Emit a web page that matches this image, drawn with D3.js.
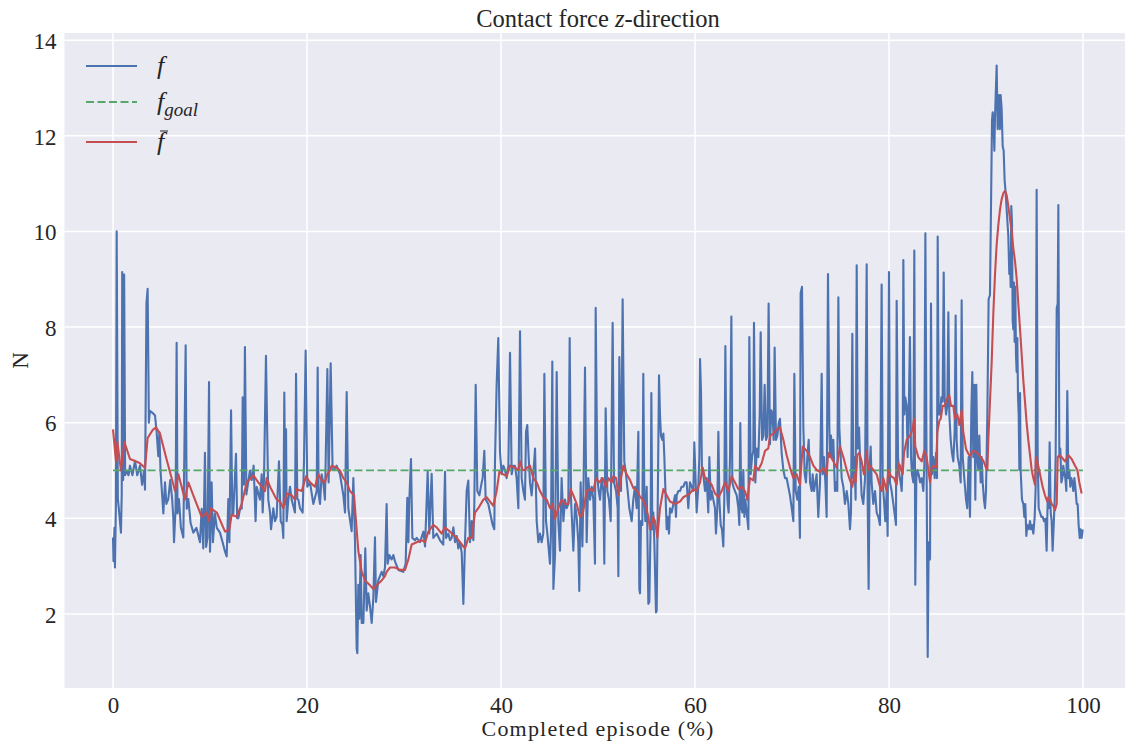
<!DOCTYPE html>
<html>
<head>
<meta charset="utf-8">
<script src="https://cdn.jsdelivr.net/npm/d3@7"></script>
<style>
	body { margin: 0; background: #fff; }
	text { font-family: "Liberation Serif", "DejaVu Serif", serif; fill: #262626; }
</style>
</head>
<body>
<svg></svg>
<script>
// measured contact force, [episode %, N]
const forcePoints = [
	[0.0,3.6],[0.05,3.1],[0.15,3.8],[0.2,2.97],[0.3,4.3],[0.38,10.0],[0.5,4.4],[0.6,4.2],[0.82,3.7],[0.9,4.5],
	[0.95,9.15],[1.05,4.8],[1.15,9.1],[1.25,4.9],[1.4,5.0],[1.6,4.9],[1.75,5.1],[2.0,4.9],[2.27,5.2],[2.5,4.9],
	[2.78,5.1],[3.0,4.7],[3.2,5.0],[3.3,4.6],[3.45,8.5],[3.57,8.8],[3.7,6.0],[3.8,6.25],[4.1,6.2],[4.33,6.15],
	[4.5,5.8],[4.67,5.3],[4.78,5.8],[4.9,5.0],[5.19,4.1],[5.36,4.75],[5.5,4.3],[5.7,4.4],[5.9,4.8],[6.1,4.4],
	[6.22,4.0],[6.29,3.5],[6.45,4.2],[6.56,7.67],[6.65,4.1],[6.8,4.4],[7.0,3.8],[7.25,3.6],[7.49,7.62],[7.6,4.2],
	[7.77,4.4],[8.0,3.9],[8.28,3.7],[8.6,3.8],[8.97,3.5],[9.14,4.2],[9.31,3.37],[9.48,5.37],[9.6,3.4],[9.75,3.6],
	[9.9,6.85],[10.0,3.3],[10.17,4.75],[10.3,3.5],[10.5,4.1],[10.7,3.8],[11.03,3.7],[11.3,3.5],[11.55,3.3],[11.72,3.2],
	[11.89,4.4],[12.0,3.5],[12.17,6.26],[12.3,4.1],[12.4,4.1],[12.68,5.35],[12.8,4.0],[12.92,4.0],[13.1,4.2],[13.27,4.2],
	[13.37,6.53],[13.5,4.7],[13.6,7.58],[13.75,4.5],[14.12,5.0],[14.3,4.8],[14.5,5.1],[14.7,3.94],[14.81,4.66],[15.15,4.39],
	[15.33,4.92],[15.43,4.12],[15.57,4.84],[15.77,7.4],[16.01,4.39],[16.19,4.12],[16.29,3.77],[16.53,4.21],[16.7,3.94],[16.87,4.03],
	[17.11,5.19],[17.29,3.94],[17.46,3.86],[17.56,3.59],[17.66,6.63],[17.76,4.3],[17.84,5.86],[17.9,3.94],[18.08,4.39],[18.25,4.66],
	[18.42,4.39],[18.76,4.12],[18.87,7.02],[19.0,4.4],[19.11,4.39],[19.28,4.21],[19.55,4.12],[19.69,5.19],[19.86,7.51],[20.03,4.66],
	[20.31,4.75],[20.65,4.3],[21.0,4.57],[21.1,7.15],[21.2,4.5],[21.34,4.3],[21.51,4.92],[21.68,4.75],[21.85,4.39],[22.1,7.12],
	[22.23,4.75],[22.44,7.24],[22.64,5.01],[22.82,5.01],[23.05,5.1],[23.4,4.92],[23.75,4.48],[23.92,4.12],[24.09,6.64],[24.26,4.21],
	[24.6,3.73],[24.78,4.84],[24.95,3.5],[25.12,1.27],[25.19,1.18],[25.29,2.61],[25.4,1.9],[25.53,3.23],[25.64,1.81],[25.81,1.81],
	[26.01,3.37],[26.15,2.07],[26.32,2.43],[26.49,2.16],[26.67,1.81],[26.84,2.34],[27.01,3.6],[27.11,2.25],[27.35,2.7],[27.7,2.88],
	[27.87,2.79],[28.04,2.97],[28.21,4.3],[28.31,3.05],[28.49,3.23],[28.73,3.14],[28.9,3.23],[29.07,3.1],[29.42,2.92],[29.93,2.88],
	[30.17,3.05],[30.34,4.43],[30.45,3.5],[30.55,4.39],[30.72,5.24],[30.86,3.59],[31.14,3.54],[31.31,3.59],[31.65,3.5],[32.0,3.72],
	[32.17,3.41],[32.44,4.97],[32.61,3.68],[32.85,4.93],[33.02,3.59],[33.37,3.68],[33.71,3.54],[34.05,3.45],[34.23,4.97],[34.33,3.59],
	[34.57,3.68],[34.74,3.54],[34.91,3.59],[35.09,3.81],[35.26,3.5],[35.43,3.63],[35.6,3.37],[35.77,3.5],[35.95,3.28],[36.12,2.21],
	[36.29,3.5],[36.46,4.57],[36.63,4.79],[36.8,3.5],[36.98,3.94],[37.15,3.54],[37.25,4.3],[37.39,6.79],[37.56,4.57],[37.77,4.48],
	[38.01,4.75],[38.11,4.84],[38.28,5.41],[38.42,4.39],[38.69,4.3],[38.87,4.12],[39.14,3.86],[39.31,3.77],[39.38,5.19],[39.55,6.79],
	[39.72,7.77],[39.9,5.37],[40.07,4.92],[40.24,5.1],[40.41,5.01],[40.58,4.84],[40.76,5.1],[40.93,7.46],[41.1,4.92],[41.27,5.1],
	[41.44,5.1],[41.61,4.84],[41.79,4.21],[41.96,7.91],[42.13,4.84],[42.3,4.57],[42.47,4.39],[42.58,5.81],[42.71,5.95],[42.85,5.28],
	[42.99,4.75],[43.16,4.48],[43.33,4.92],[43.51,5.46],[43.68,3.94],[43.85,3.5],[44.02,3.68],[44.19,3.5],[44.36,3.68],[44.47,7.02],
	[44.64,3.94],[44.78,3.68],[45.05,3.05],[45.15,3.68],[45.29,7.28],[45.4,2.52],[45.57,3.23],[45.74,7.06],[45.91,3.94],[46.08,3.32],
	[46.25,4.84],[46.43,3.94],[46.6,4.39],[46.77,4.21],[46.94,4.3],[47.08,7.77],[47.22,4.39],[47.46,3.32],[47.63,4.3],[47.8,4.03],
	[47.97,3.5],[48.07,2.48],[48.21,4.75],[48.39,3.41],[48.52,4.84],[48.66,7.15],[48.83,3.5],[49.0,4.84],[49.18,4.39],[49.35,4.66],
	[49.52,4.39],[49.69,3.05],[49.76,8.4],[49.93,4.84],[50.07,4.57],[50.21,4.39],[50.38,4.84],[50.55,4.57],[50.65,3.05],[50.79,6.3],
	[50.96,4.57],[51.13,4.39],[51.31,3.94],[51.51,8.09],[51.65,4.75],[51.86,4.57],[52.03,4.21],[52.1,2.79],[52.2,7.37],[52.37,4.57],
	[52.54,8.58],[52.71,5.19],[52.89,4.92],[53.06,4.57],[53.23,4.21],[53.47,3.94],[53.64,4.39],[53.81,4.66],[53.99,4.21],[54.16,5.81],
	[54.26,2.52],[54.33,2.43],[54.43,3.94],[54.57,3.86],[54.67,7.02],[54.78,4.39],[54.88,3.94],[55.02,4.66],[55.19,2.21],[55.29,2.25],
	[55.43,3.94],[55.5,6.62],[55.6,3.77],[55.7,4.12],[55.81,3.5],[55.98,2.03],[56.05,2.07],[56.12,3.5],[56.29,6.99],[56.39,6.17],
	[56.49,5.73],[56.63,5.64],[56.74,5.77],[56.84,5.28],[56.98,4.39],[57.08,3.77],[57.18,4.03],[57.32,3.68],[57.42,4.21],[57.59,4.12],
	[57.77,4.3],[57.94,4.48],[58.04,4.03],[58.11,4.48],[58.28,4.57],[58.45,4.57],[58.62,4.66],[58.8,4.66],[58.97,4.75],[59.14,4.75],
	[59.31,4.21],[59.48,4.75],[59.66,4.66],[59.83,4.57],[59.93,5.59],[60.07,4.75],[60.17,4.12],[60.34,4.66],[60.45,5.28],[60.52,7.33],
	[60.62,6.62],[60.72,4.92],[60.86,4.92],[61.03,4.57],[61.2,4.84],[61.37,4.12],[61.48,5.28],[61.62,4.39],[61.72,4.57],[61.89,4.39],
	[62.06,4.21],[62.16,3.68],[62.3,4.21],[62.41,5.81],[62.51,4.39],[62.65,3.86],[62.78,3.77],[62.92,3.41],[63.02,4.39],[63.13,7.6],
	[63.26,4.75],[63.37,4.3],[63.47,4.12],[63.61,5.28],[63.75,8.22],[63.85,4.75],[63.95,4.66],[64.12,4.57],[64.3,4.48],[64.47,4.21],
	[64.57,3.86],[64.67,5.99],[64.78,4.21],[64.88,4.12],[64.98,5.01],[65.09,4.03],[65.19,4.39],[65.33,4.12],[65.5,3.77],[65.6,7.79],
	[65.74,4.92],[65.88,5.28],[66.01,5.41],[66.08,8.09],[66.22,4.75],[66.36,5.46],[66.53,5.28],[66.67,6.17],[66.77,7.89],[66.91,5.64],
	[67.05,5.73],[67.18,6.79],[67.32,5.64],[67.46,5.73],[67.59,8.49],[67.73,5.55],[67.87,6.26],[68.0,6.17],[68.11,5.64],[68.21,7.57],
	[68.35,5.64],[68.49,5.73],[68.63,5.99],[68.76,6.08],[68.93,5.37],[69.11,5.01],[69.28,4.84],[69.45,4.84],[69.62,4.66],[69.79,4.48],
	[69.97,4.21],[70.14,3.94],[70.24,7.02],[70.38,4.57],[70.55,4.39],[70.69,4.66],[70.82,3.59],[70.89,8.71],[71.03,8.84],[71.17,5.9],
	[71.31,4.92],[71.44,4.75],[71.58,5.28],[71.72,5.64],[71.86,4.75],[72.03,4.57],[72.13,4.92],[72.27,4.57],[72.41,4.75],[72.54,4.92],
	[72.71,4.03],[72.89,4.75],[73.06,7.02],[73.16,4.92],[73.3,5.28],[73.44,4.75],[73.57,4.03],[73.71,9.11],[73.85,5.9],[73.92,5.28],
	[74.02,5.73],[74.16,5.28],[74.26,5.64],[74.43,4.57],[74.54,4.75],[74.67,4.57],[74.78,8.62],[74.88,5.9],[75.02,5.28],[75.12,4.84],
	[75.29,4.66],[75.46,4.3],[75.64,4.57],[75.81,4.3],[75.98,3.77],[76.08,4.12],[76.22,7.86],[76.32,4.84],[76.43,5.28],[76.56,4.39],
	[76.67,9.29],[76.77,5.46],[76.91,5.9],[77.01,5.28],[77.18,4.48],[77.35,4.3],[77.53,4.84],[77.7,9.31],[77.8,4.39],[77.9,2.52],
	[78.01,5.1],[78.11,5.5],[78.21,4.75],[78.38,4.3],[78.56,4.57],[78.73,4.12],[78.9,4.03],[79.07,3.86],[79.24,8.89],[79.35,4.75],
	[79.48,4.39],[79.62,3.94],[79.76,4.57],[79.86,3.63],[80.0,9.15],[80.1,4.75],[80.27,4.57],[80.45,4.3],[80.62,4.03],[80.72,3.86],
	[80.79,8.55],[80.93,5.28],[81.06,4.92],[81.2,4.75],[81.31,4.57],[81.41,5.28],[81.48,9.4],[81.58,6.17],[81.68,6.53],[81.82,6.35],
	[81.92,5.28],[82.03,6.17],[82.16,7.79],[82.27,5.28],[82.37,4.92],[82.51,4.75],[82.61,9.6],[82.71,2.61],[82.82,4.84],[82.92,5.01],
	[83.06,4.92],[83.2,4.75],[83.37,4.84],[83.54,4.57],[83.64,5.1],[83.75,9.96],[83.88,4.92],[83.99,1.1],[84.09,3.5],[84.23,3.14],
	[84.33,8.49],[84.43,4.92],[84.57,5.28],[84.71,4.84],[84.85,5.37],[84.95,4.84],[85.02,9.89],[85.12,6.17],[85.26,6.17],[85.4,6.53],
	[85.53,6.44],[85.64,9.14],[85.74,6.53],[85.88,6.17],[86.01,6.35],[86.12,8.31],[86.22,6.17],[86.36,5.64],[86.49,5.37],[86.63,5.19],
	[86.77,5.81],[86.87,8.24],[86.97,5.64],[87.08,5.28],[87.25,5.1],[87.39,4.75],[87.49,8.56],[87.6,5.28],[87.73,4.92],[87.94,4.39],
	[88.07,4.21],[88.21,5.28],[88.35,4.03],[88.49,6.26],[88.59,7.06],[88.69,5.28],[88.8,6.79],[88.9,4.39],[89.0,6.79],[89.11,5.28],
	[89.21,5.01],[89.31,5.73],[89.45,4.75],[89.55,5.28],[89.66,4.75],[89.79,4.39],[89.9,4.21],[90.0,4.57],[90.14,6.17],[90.27,8.58],
	[90.41,8.67],[90.52,10.6],[90.62,12.32],[90.69,12.49],[90.76,12.4],[90.86,11.69],[90.93,12.4],[91.0,12.85],[91.1,13.47],[91.2,12.14],
	[91.34,12.85],[91.44,12.14],[91.51,12.85],[91.61,12.58],[91.72,11.78],[91.82,11.69],[91.92,11.07],[92.03,10.8],[92.16,10.36],[92.3,9.91],
	[92.4,9.11],[92.47,9.55],[92.54,8.84],[92.61,10.53],[92.68,10.18],[92.75,8.13],[92.82,7.95],[92.89,8.93],[92.95,7.69],[93.02,8.84],
	[93.09,7.42],[93.16,7.06],[93.23,7.77],[93.3,6.53],[93.37,6.17],[93.44,5.01],[93.51,6.62],[93.57,5.01],[93.71,4.39],[93.85,4.3],
	[93.95,4.03],[94.05,4.3],[94.16,3.63],[94.26,3.86],[94.4,3.77],[94.54,3.94],[94.64,3.77],[94.74,3.86],[94.88,3.68],[95.02,4.03],
	[95.12,4.66],[95.22,10.87],[95.33,5.28],[95.43,4.21],[95.57,4.12],[95.71,4.03],[95.84,4.03],[95.98,3.94],[96.12,3.99],[96.25,3.32],
	[96.36,4.39],[96.46,4.21],[96.56,5.59],[96.67,4.12],[96.77,3.94],[96.87,3.32],[96.98,3.86],[97.08,4.39],[97.18,5.28],[97.29,8.4],
	[97.39,8.49],[97.46,10.55],[97.56,5.28],[97.66,5.46],[97.77,4.75],[97.87,4.84],[97.97,5.1],[98.08,4.92],[98.18,4.84],[98.28,4.57],
	[98.38,6.66],[98.49,4.84],[98.59,5.01],[98.69,4.66],[98.8,4.84],[98.9,4.75],[99.0,4.57],[99.11,4.84],[99.21,4.66],[99.35,4.3],
	[99.45,4.3],[99.55,3.86],[99.66,3.59],[99.76,3.77],[99.86,3.59],[99.97,3.77]
];

// running mean of the force, [episode %, N]
const meanPoints = [
	[0.0,5.86],[0.3,5.2],[0.45,5.6],[0.82,5.0],[1.17,5.6],[1.75,5.24],[2.27,5.2],[2.78,5.15],[3.3,5.05],[3.57,5.68],
	[4.1,5.85],[4.43,5.9],[4.85,5.77],[5.46,5.28],[6.4,4.57],[6.74,4.92],[7.42,4.39],[7.77,4.75],[8.28,4.48],[9.14,4.03],
	[9.66,4.12],[9.9,3.94],[10.07,4.21],[10.7,4.12],[11.55,3.72],[12.0,3.77],[12.24,4.08],[12.75,4.03],[13.27,4.3],[13.78,4.75],
	[14.47,4.9],[14.98,4.75],[15.67,4.57],[15.84,4.84],[16.19,4.66],[16.87,4.39],[17.22,4.35],[17.56,4.21],[17.9,4.52],[18.42,4.48],
	[18.76,4.39],[18.93,4.61],[19.45,4.57],[19.72,4.75],[19.89,4.88],[20.31,4.75],[20.82,4.66],[21.17,4.92],[21.51,4.79],[21.85,4.75],
	[22.1,4.92],[22.37,5.0],[22.54,5.1],[23.05,5.06],[23.4,5.0],[23.75,4.84],[24.09,4.75],[24.43,4.57],[24.85,4.48],[25.05,3.94],
	[25.29,3.32],[25.64,2.88],[25.98,2.7],[26.49,2.6],[26.84,2.52],[27.18,2.6],[27.7,2.7],[28.04,2.79],[28.21,2.88],[28.56,2.97],
	[29.07,2.97],[29.59,2.92],[30.1,2.92],[30.45,3.14],[30.79,3.45],[31.31,3.5],[31.82,3.54],[32.17,3.5],[32.51,3.72],[33.02,3.86],
	[33.37,3.81],[33.88,3.68],[34.2,3.81],[34.74,3.72],[35.43,3.59],[36.12,3.41],[36.29,3.37],[36.63,3.59],[36.98,3.59],[37.32,4.12],
	[37.66,4.21],[38.18,4.39],[38.52,4.44],[38.87,4.35],[39.21,4.26],[39.55,4.57],[39.83,4.97],[40.24,4.92],[40.58,4.88],[40.93,5.1],
	[41.44,5.06],[41.79,5.01],[41.96,5.19],[42.23,5.01],[42.47,5.01],[42.71,5.06],[42.99,5.1],[43.33,4.84],[43.68,4.75],[44.02,4.57],
	[44.36,4.44],[44.71,4.39],[45.05,4.21],[45.33,4.3],[45.57,3.99],[45.91,4.21],[46.25,4.39],[46.6,4.3],[46.94,4.3],[47.18,4.61],
	[47.46,4.48],[47.8,4.3],[48.14,4.03],[48.42,4.08],[48.83,4.57],[49.18,4.61],[49.52,4.57],[49.79,4.84],[50.14,4.75],[50.48,4.84],
	[50.82,4.66],[51.07,4.84],[51.41,4.75],[51.58,4.88],[51.86,4.84],[52.1,4.48],[52.37,4.84],[52.61,5.1],[52.95,4.92],[53.3,4.8],
	[53.64,4.63],[53.99,4.59],[54.33,4.45],[54.6,4.39],[54.85,4.3],[55.19,4.03],[55.36,3.77],[55.7,4.03],[55.88,3.94],[56.12,3.59],
	[56.39,4.21],[56.74,4.61],[57.08,4.48],[57.42,4.35],[57.94,4.3],[58.45,4.35],[58.8,4.44],[59.14,4.48],[59.48,4.52],[59.83,4.61],
	[60.17,4.57],[60.52,4.75],[60.79,5.06],[61.03,4.84],[61.37,4.79],[61.72,4.7],[62.06,4.52],[62.41,4.44],[62.75,4.57],[63.09,4.75],
	[63.44,4.57],[63.78,4.88],[64.12,4.75],[64.47,4.61],[64.81,4.66],[65.15,4.57],[65.4,4.39],[65.67,4.84],[66.01,4.79],[66.19,5.1],
	[66.53,5.01],[66.87,5.15],[67.22,5.41],[67.56,5.46],[67.73,5.73],[68.07,5.77],[68.42,5.86],[68.76,5.9],[69.11,5.64],[69.45,5.32],
	[69.79,5.06],[70.14,4.84],[70.48,4.92],[70.82,4.7],[71.1,5.5],[71.51,5.41],[71.86,5.28],[72.2,5.1],[72.54,5.01],[72.89,4.97],
	[73.23,5.05],[73.57,4.92],[73.74,5.37],[73.92,5.32],[74.26,5.19],[74.6,5.06],[74.95,5.5],[75.29,5.28],[75.64,5.01],[75.98,4.79],
	[76.22,4.66],[76.43,4.92],[76.56,4.75],[76.74,5.32],[76.94,5.37],[77.18,5.19],[77.42,4.92],[77.7,5.41],[77.87,5.01],[78.04,5.1],
	[78.38,5.01],[78.73,4.92],[79.07,4.66],[79.24,4.57],[79.41,4.84],[79.76,4.57],[79.93,5.01],[80.2,4.88],[80.52,4.84],[80.79,4.7],
	[80.96,5.15],[81.13,5.1],[81.41,4.92],[81.55,5.37],[81.82,5.64],[82.16,5.73],[82.44,5.86],[82.58,6.08],[82.71,5.5],[83.02,5.28],
	[83.37,5.19],[83.64,5.41],[83.88,5.28],[84.06,5.01],[84.23,4.75],[84.4,5.06],[84.57,5.1],[84.85,5.06],[84.99,5.81],[85.19,6.04],
	[85.33,6.08],[85.53,6.35],[85.71,6.35],[85.88,6.44],[86.05,6.53],[86.22,6.57],[86.39,6.35],[86.63,6.35],[86.8,6.08],[87.04,6.17],
	[87.25,5.95],[87.49,6.26],[87.66,5.8],[87.94,5.45],[88.18,5.35],[88.35,5.3],[88.59,5.4],[88.87,5.4],[89.11,5.37],[89.38,5.3],
	[89.73,5.2],[90.0,5.06],[90.14,5.01],[90.24,5.64],[90.41,6.44],[90.58,7.24],[90.76,8.31],[90.93,9.11],[91.1,9.73],[91.27,10.13],
	[91.44,10.45],[91.61,10.67],[91.79,10.8],[91.96,10.85],[92.13,10.76],[92.3,10.53],[92.47,10.27],[92.65,10.0],[92.82,9.64],[92.99,9.38],
	[93.16,9.02],[93.33,8.49],[93.51,7.95],[93.68,7.42],[93.85,6.88],[94.02,6.44],[94.19,5.99],[94.36,5.64],[94.54,5.32],[94.71,5.01],
	[94.88,4.84],[95.05,4.7],[95.15,5.28],[95.29,5.19],[95.57,4.92],[95.84,4.66],[96.08,4.48],[96.32,4.35],[96.43,4.44],[96.6,4.39],
	[96.77,4.3],[96.94,4.26],[97.11,4.17],[97.29,4.3],[97.39,5.28],[97.56,5.32],[97.8,5.28],[98.14,5.19],[98.49,5.32],[98.83,5.24],
	[99.18,5.1],[99.42,5.01],[99.62,4.75],[99.86,4.52]
];

const goalForce = 5.0;
const goalRange = [0, 100];

const xTicks = [0, 20, 40, 60, 80, 100];
const yTicks = [2, 4, 6, 8, 10, 12, 14];

const width = 1125;
const height = 745;
const margin = {left: 64.5, right: -6.5, top: 33, bottom: 57};

const colours = {f: '#4C72B0', goal: '#55A868', mean: '#C44E52'};

const svg = d3.select('svg')
	.attr('width', width)
	.attr('height', height);

const x = d3.scaleLinear()
	.domain([-5, 105])
	.range([margin.left, width - margin.right]);

const y = d3.scaleLinear()
	.domain([0.45, 14.15])
	.range([height - margin.bottom, margin.top]);

const plotW = width - margin.right - margin.left;
const plotH = height - margin.bottom - margin.top;

svg.append('defs').append('clipPath')
	.attr('id', 'plot-clip')
	.append('rect')
		.attr('x', margin.left)
		.attr('y', margin.top)
		.attr('width', plotW)
		.attr('height', plotH);

svg.append('rect')
	.attr('x', margin.left)
	.attr('y', margin.top)
	.attr('width', plotW)
	.attr('height', plotH)
	.attr('fill', '#EAEAF2');

// grid
const grid = svg.append('g');
grid.selectAll('line.gx')
	.data(xTicks)
	.enter().append('line')
		.attr('x1', d => x(d))
		.attr('x2', d => x(d))
		.attr('y1', margin.top)
		.attr('y2', height - margin.bottom)
		.attr('stroke', '#fff')
		.attr('stroke-width', 1.5);
grid.selectAll('line.gy')
	.data(yTicks)
	.enter().append('line')
		.attr('x1', margin.left)
		.attr('x2', width)
		.attr('y1', d => y(d))
		.attr('y2', d => y(d))
		.attr('stroke', '#fff')
		.attr('stroke-width', 1.5);

// tick labels via axes, no domain / tick marks
const xAxis = svg.append('g')
	.attr('transform', `translate(0,${height - margin.bottom})`)
	.call(d3.axisBottom(x).tickValues(xTicks).tickSize(0).tickPadding(9));
const yAxis = svg.append('g')
	.attr('transform', `translate(${margin.left},0)`)
	.call(d3.axisLeft(y).tickValues(yTicks).tickSize(0).tickPadding(8));
[xAxis, yAxis].forEach(ax => {
	ax.select('.domain').remove();
	ax.selectAll('text')
		.attr('font-size', 23)
		.attr('font-family', '"Liberation Serif", "DejaVu Serif", serif')
		.attr('fill', '#262626');
});
yAxis.selectAll('text').attr('dy', '0.36em');

const line = d3.line()
	.x(d => x(d[0]))
	.y(d => y(d[1]));

const plot = svg.append('g').attr('clip-path', 'url(#plot-clip)');

plot.append('path')
	.datum(forcePoints)
	.attr('d', line)
	.attr('fill', 'none')
	.attr('stroke', colours.f)
	.attr('stroke-width', 2.1)
	.attr('stroke-linejoin', 'round');

plot.append('line')
	.attr('x1', x(goalRange[0]))
	.attr('x2', x(goalRange[1]))
	.attr('y1', y(goalForce))
	.attr('y2', y(goalForce))
	.attr('stroke', colours.goal)
	.attr('stroke-width', 1.8)
	.attr('stroke-dasharray', '8,3.5');

plot.append('path')
	.datum(meanPoints)
	.attr('d', line)
	.attr('fill', 'none')
	.attr('stroke', colours.mean)
	.attr('stroke-width', 2.1)
	.attr('stroke-linejoin', 'round');

// title + labels
svg.append('text')
	.attr('x', x(50))
	.attr('y', 27)
	.attr('text-anchor', 'middle')
	.attr('font-size', 24.5)
	.html('Contact force <tspan font-style="italic">z</tspan>-direction');

svg.append('text')
	.attr('x', x(50))
	.attr('y', 736)
	.attr('text-anchor', 'middle')
	.attr('font-size', 22)
	.attr('letter-spacing', 1.2)
	.text('Completed episode (%)');

svg.append('text')
	.attr('transform', `translate(28,${y(7.3)}) rotate(-90)`)
	.attr('text-anchor', 'middle')
	.attr('font-size', 23)
	.text('N');

// legend
const legend = svg.append('g');
const legendRows = [
	{key: 'f', colour: colours.f, dash: null, y: 66},
	{key: 'goal', colour: colours.goal, dash: '8,3.5', y: 102},
	{key: 'mean', colour: colours.mean, dash: null, y: 142}
];
legendRows.forEach(r => {
	legend.append('line')
		.attr('x1', 86).attr('x2', 137)
		.attr('y1', r.y).attr('y2', r.y)
		.attr('stroke', r.colour)
		.attr('stroke-width', 2)
		.attr('stroke-dasharray', r.dash);
});
legend.append('text')
	.attr('x', 157).attr('y', 74)
	.attr('font-size', 26)
	.attr('font-style', 'italic')
	.text('f');
legend.append('text')
	.attr('x', 157).attr('y', 110)
	.attr('font-size', 26)
	.attr('font-style', 'italic')
	.html('f<tspan font-size="19" dy="6">goal</tspan>');
legend.append('text')
	.attr('x', 157).attr('y', 150)
	.attr('font-size', 26)
	.attr('font-style', 'italic')
	.text('f');
legend.append('line')
	.attr('x1', 160).attr('x2', 168)
	.attr('y1', 131).attr('y2', 131)
	.attr('stroke', '#262626')
	.attr('stroke-width', 1);
</script>
</body>
</html>
